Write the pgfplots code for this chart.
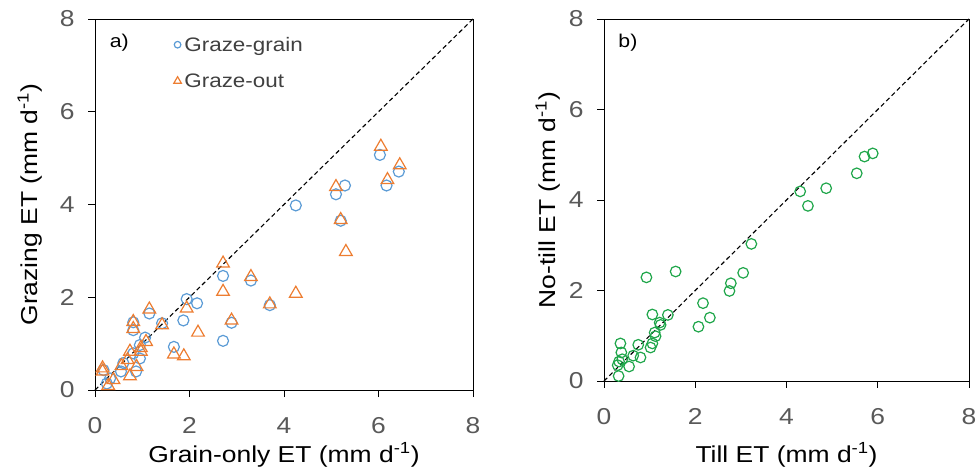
\documentclass[border=0pt]{standalone}
\usepackage{fontspec}
\setmainfont{Liberation Sans}[FakeStretch=1.15]
\usepackage{pgfplots}
\pgfplotsset{compat=1.18}
\usepackage{pgfplotstable}

\definecolor{gblue}{HTML}{5B9BD5}
\definecolor{gorange}{HTML}{ED7D31}
\definecolor{ggreen}{HTML}{1FA64A}
\definecolor{tickgray}{HTML}{595959}
\definecolor{leggray}{HTML}{404040}

% Grain-only ET vs. grazing ET (mm/d)
\pgfplotstableread{
x y
6.03 5.07
6.43 4.71
6.17 4.41
5.29 4.41
5.10 4.22
5.20 3.65
4.25 3.98
2.71 2.46
3.30 2.36
3.70 1.83
1.94 1.96
2.16 1.87
1.87 1.50
2.89 1.45
2.71 1.06
1.67 0.93
1.42 1.44
1.15 1.65
0.81 1.46
0.81 1.29
1.06 1.13
0.95 0.97
0.95 0.68
0.81 0.79
0.87 0.40
0.60 0.58
0.55 0.40
0.18 0.43
0.32 0.25
0.25 0.14
}\grazegrain

\pgfplotstableread{
x y
6.05 5.25
6.45 4.85
6.19 4.53
5.10 4.38
5.20 3.67
5.31 2.98
2.71 2.73
3.30 2.44
2.71 2.12
4.25 2.08
3.70 1.85
1.94 1.76
2.89 1.50
2.18 1.24
1.15 1.74
1.42 1.40
0.81 1.47
0.81 1.32
1.08 1.04
0.97 0.91
0.74 0.83
1.88 0.73
1.67 0.77
0.97 0.83
0.69 0.65
0.56 0.52
0.88 0.50
0.74 0.30
0.16 0.47
0.16 0.40
0.39 0.22
0.28 0.09
}\grazeout

% Till ET vs. no-till ET (mm/d)
\pgfplotstableread{
x y
5.89 5.03
5.71 4.96
5.54 4.59
4.87 4.26
4.30 4.19
4.47 3.87
3.23 3.03
3.05 2.39
2.78 2.16
2.75 1.99
1.57 2.42
0.93 2.29
2.17 1.72
2.32 1.40
2.07 1.20
1.40 1.46
1.06 1.47
1.22 1.29
1.24 1.24
1.11 1.07
1.13 0.99
1.06 0.83
1.02 0.74
0.75 0.80
0.80 0.52
0.64 0.56
0.55 0.32
0.36 0.83
0.38 0.63
0.40 0.48
0.33 0.43
0.30 0.35
0.32 0.11
}\tillnotill

\pgfplotsset{
  etpanel/.style={
    scale only axis,
    xmin=0, xmax=8, ymin=0, ymax=8,
    xtick={0,2,4,6,8}, ytick={0,2,4,6,8},
    xtick pos=left, ytick pos=left,
    tick align=outside,
    major tick length=7bp,
    axis line style={black, line width=0.9bp},
    tick style={black, line width=0.9bp},
    /pgf/number format/assume math mode=true,
    ticklabel style={font=\fontsize{23bp}{27bp}\selectfont, text=tickgray},
    xticklabel shift=17bp,
    yticklabel shift=10bp,
    label style={font=\fontsize{23bp}{27bp}\selectfont, text=black},
    clip=false,
  },
  diag/.style={black, line width=1.1bp, dash pattern=on 4.5bp off 3bp},
}

\begin{document}
\begin{tikzpicture}
\path[use as bounding box] (0bp,0bp) rectangle (978bp,473bp);

% Panel a
\begin{axis}[etpanel,
  at={(95bp,83bp)}, anchor=south west,
  width=378bp, height=371bp,
  xlabel={Grain-only ET (mm d\textsuperscript{-1})},
  ylabel={Grazing ET (mm d\textsuperscript{-1})},
  xlabel style={at={([yshift=-65bp]axis description cs:0.5,0)}, anchor=center},
  ylabel style={at={([xshift=-65bp]axis description cs:0,0.5)}, anchor=center, rotate=0},
  legend style={at={([xshift=3bp,yshift=-14bp]axis description cs:0.2,0.99)}, anchor=north west,
    draw=none, fill=none, font=\fontsize{19.5bp}{23bp}\selectfont, text=leggray,
    row sep=21bp, inner sep=0pt,
    nodes={inner xsep=3bp, inner ysep=0pt}},
  legend cell align=left,
  legend image code/.code={\draw[#1, mark options={solid, scale=0.6}] plot coordinates {(0.3cm,0bp)};},
]
\addplot[diag, forget plot] coordinates {(0,0) (8,8)};
\addplot[only marks, mark=o, mark size=5.5bp, gblue, line width=1.2bp,
  mark options={solid}] table {\grazegrain};
\addplot[only marks, mark=triangle, mark size=7.3bp, gorange, line width=1.2bp,
  mark options={solid}] table {\grazeout};
\legend{Graze-grain, Graze-out}
\node[anchor=west, font=\fontsize{18.5bp}{22bp}\selectfont] at (axis description cs:0.03,0.935) {a)};
\end{axis}

% Panel b
\begin{axis}[etpanel,
  at={(604bp,92bp)}, anchor=south west,
  width=365bp, height=362bp,
  xlabel={Till ET (mm d\textsuperscript{-1})},
  ylabel={No-till ET (mm d\textsuperscript{-1})},
  xlabel style={at={([yshift=-74bp]axis description cs:0.5,0)}, anchor=center},
  ylabel style={at={([xshift=-56bp]axis description cs:0,0.5)}, anchor=center},
]
\addplot[diag] coordinates {(0,0) (8,8)};
\addplot[only marks, mark=o, mark size=5.3bp, ggreen, line width=1.2bp,
  mark options={solid}] table {\tillnotill};
\node[anchor=west, font=\fontsize{18.5bp}{22bp}\selectfont] at (axis description cs:0.03,0.935) {b)};
\end{axis}
\end{tikzpicture}
\end{document}
